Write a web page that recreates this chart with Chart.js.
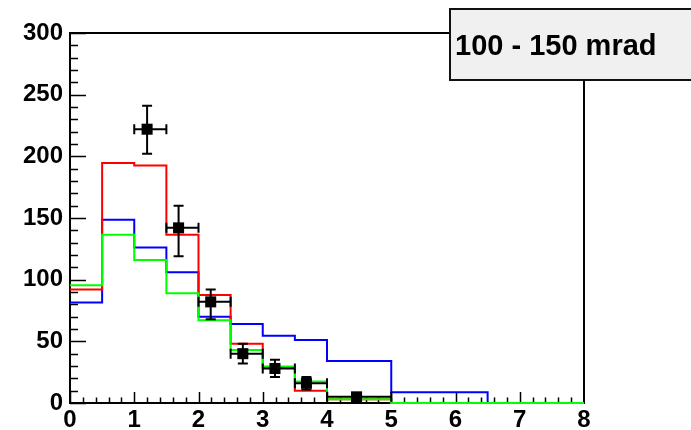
<!DOCTYPE html>
<html>
<head>
<meta charset="utf-8">
<script src="https://cdn.jsdelivr.net/npm/chart.js@4.4.1/dist/chart.umd.min.js"></script>
<style>
  html, body { margin: 0; padding: 0; background: #fff; }
  #wrap { width: 691px; height: 430px; }
</style>
</head>
<body>
<div id="wrap"><canvas id="c" width="691" height="430"></canvas></div>
<script>
// Histogram binning (variable width bins) and contents
const binEdges    = [0, 0.5, 1, 1.5, 2, 2.5, 3, 3.5, 4, 5, 6.5, 8];
const redValues   = [92, 194.5, 192.5, 136.5, 87.5, 48, 28.5, 10, 3, 0, 0];
const blueValues  = [81.5, 148.5, 126, 106, 70, 64, 54.5, 51, 34, 8.7, 0];
const greenValues = [95.5, 136.5, 116, 89, 67, 43, 29.5, 17.5, 3, 0, 0];

// Measured points with asymmetric errors
const dataX       = [1.2, 1.69, 2.19, 2.69, 3.19, 3.68, 4.46];
const dataY       = [222, 142, 82, 40, 28, 16, 5];
const dataErrLow  = [20, 23, 14, 8, 7, 5, 3];
const dataErrHigh = [19, 18, 10, 8, 7, 5, 3];
const dataXLow    = [1, 1.5, 2, 2.5, 3, 3.5, 4];
const dataXHigh   = [1.5, 2, 2.5, 3, 3.5, 4, 5];

// Axis tick labels
const xTickValues = [0, 1, 2, 3, 4, 5, 6, 7, 8];
const yTickValues = [0, 50, 100, 150, 200, 250, 300];
const minorDivisions = 5;

const paveLabel = '100 - 150 mrad';

const FONT = "'Liberation Sans', Arial, Helvetica, sans-serif";

function histPoints(values) {
  return binEdges.map((e, i) => ({ x: e, y: values[Math.min(i, values.length - 1)] }));
}

function histDataset(label, values, color) {
  return {
    label: label,
    data: histPoints(values),
    showLine: true,
    stepped: 'before',
    borderColor: color,
    borderWidth: 2,
    pointRadius: 0,
    fill: false,
    clip: 4
  };
}

// Frame and inward-pointing tick marks, drawn underneath the histograms
const framePlugin = {
  id: 'frame',
  beforeDatasetsDraw(chart) {
    const { ctx, chartArea: a, scales: { x, y } } = chart;
    ctx.save();
    ctx.strokeStyle = '#000';
    ctx.lineWidth = 2;
    ctx.strokeRect(a.left, a.top, a.right - a.left, a.bottom - a.top);

    ctx.lineWidth = 1.5;
    ctx.beginPath();
    // x-axis ticks
    for (let i = 0; i < xTickValues.length - 1; i++) {
      const v0 = xTickValues[i], v1 = xTickValues[i + 1];
      for (let k = 0; k < minorDivisions; k++) {
        const v = v0 + (v1 - v0) * k / minorDivisions;
        const px = Math.round(x.getPixelForValue(v)) + 0.5;
        const len = k === 0 ? 11 : 5.5;
        ctx.moveTo(px, a.bottom);
        ctx.lineTo(px, a.bottom - len);
      }
    }
    // y-axis ticks
    for (let i = 0; i < yTickValues.length - 1; i++) {
      const v0 = yTickValues[i], v1 = yTickValues[i + 1];
      for (let k = 0; k < minorDivisions; k++) {
        const v = v0 + (v1 - v0) * k / minorDivisions;
        const py = Math.round(y.getPixelForValue(v)) + 0.5;
        const len = k === 0 ? 16 : 8;
        ctx.moveTo(a.left, py);
        ctx.lineTo(a.left + len, py);
      }
    }
    const pyTop = Math.round(y.getPixelForValue(yTickValues[yTickValues.length - 1])) + 0.5;
    ctx.moveTo(a.left, pyTop);
    ctx.lineTo(a.left + 16, pyTop);
    ctx.stroke();
    ctx.restore();
  }
};

// Error bars with end caps for the measured points
const errorBarPlugin = {
  id: 'errorBars',
  afterDatasetsDraw(chart) {
    const { ctx, scales: { x, y } } = chart;
    const cap = 5;
    ctx.save();
    ctx.strokeStyle = '#000';
    ctx.lineWidth = 2;
    ctx.beginPath();
    dataX.forEach((xv, i) => {
      const px = x.getPixelForValue(xv);
      const py = y.getPixelForValue(dataY[i]);
      const yHi = y.getPixelForValue(dataY[i] + dataErrHigh[i]);
      const yLo = y.getPixelForValue(dataY[i] - dataErrLow[i]);
      const xLo = x.getPixelForValue(dataXLow[i]);
      const xHi = x.getPixelForValue(dataXHigh[i]);
      ctx.moveTo(px, yHi); ctx.lineTo(px, yLo);
      ctx.moveTo(px - cap, yHi); ctx.lineTo(px + cap, yHi);
      ctx.moveTo(px - cap, yLo); ctx.lineTo(px + cap, yLo);
      ctx.moveTo(xLo, py); ctx.lineTo(xHi, py);
      ctx.moveTo(xLo, py - cap); ctx.lineTo(xLo, py + cap);
      ctx.moveTo(xHi, py - cap); ctx.lineTo(xHi, py + cap);
    });
    ctx.stroke();
    ctx.restore();
  }
};

// Label box in the upper right corner
const pavePlugin = {
  id: 'pave',
  afterDraw(chart) {
    const { ctx } = chart;
    ctx.save();
    ctx.fillStyle = '#f0f0f0';
    ctx.fillRect(450, 9, 260, 71);
    ctx.strokeStyle = '#111';
    ctx.lineWidth = 2;
    ctx.strokeRect(450, 9, 260, 71);
    ctx.fillStyle = '#000';
    ctx.font = 'bold 29px ' + FONT;
    ctx.textBaseline = 'alphabetic';
    ctx.textAlign = 'left';
    ctx.fillText(paveLabel, 455, 55);
    ctx.restore();
  }
};

const tickFont = { family: FONT, size: 24, weight: 'bold' };

new Chart(document.getElementById('c'), {
  type: 'scatter',
  data: {
    datasets: [
      {
        label: 'data',
        data: dataX.map((xv, i) => ({ x: xv, y: dataY[i] })),
        pointStyle: 'rect',
        pointRadius: 7.8,
        backgroundColor: '#000',
        borderWidth: 0,
        showLine: false
      },
      histDataset('green', greenValues, '#00ff00'),
      histDataset('red', redValues, '#ff0000'),
      histDataset('blue', blueValues, '#0000ff')
    ]
  },
  options: {
    responsive: false,
    animation: false,
    events: [],
    layout: { padding: { left: 0, top: 33, right: 107, bottom: 0 } },
    plugins: { legend: { display: false }, tooltip: { enabled: false } },
    scales: {
      x: {
        type: 'linear',
        min: 0,
        max: 8,
        afterBuildTicks: s => { s.ticks = xTickValues.map(v => ({ value: v })); },
        afterFit: s => { s.height = 27; },
        grid: { display: false, drawTicks: false },
        border: { display: false },
        ticks: { font: tickFont, color: '#000', padding: 3, maxRotation: 0, autoSkip: false }
      },
      y: {
        type: 'linear',
        min: 0,
        max: 300,
        afterBuildTicks: s => { s.ticks = yTickValues.map(v => ({ value: v })); },
        afterFit: s => { s.width = 70; },
        grid: { display: false, drawTicks: false },
        border: { display: false },
        ticks: { font: tickFont, color: '#000', padding: 7, autoSkip: false }
      }
    }
  },
  plugins: [framePlugin, errorBarPlugin, pavePlugin]
});
</script>
</body>
</html>
